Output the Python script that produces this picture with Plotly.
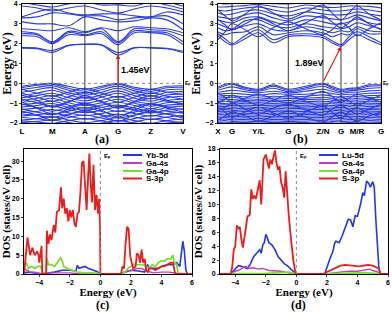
import plotly.graph_objects as go

# ---------------- data ----------------
KLAB_A = ["L", "M", "A", "G", "Z", "V"]
KPOS_A = [0, 30.3, 63.0, 96.3, 129.0, 161.3]
KLAB_B = ["X", "G", "Y/L", "G", "Z/N", "G", "M/R", "G"]
KPOS_B = [0, 14, 40.3, 70.3, 105, 123, 139, 163]

# band energies (eV) sampled at high-symmetry points and segment midpoints
CB_A = [
    [1.77, 1.75, 1.56, 1.90, 1.96, 1.92, 1.43, 1.78, 1.78, 1.74, 1.55],
    [1.80, 1.78, 1.66, 1.92, 1.98, 1.95, 1.55, 1.80, 1.80, 1.77, 1.62],
    [2.40, 2.35, 2.00, 2.45, 2.40, 2.50, 1.95, 2.55, 2.55, 2.45, 1.95],
    [2.50, 2.45, 2.05, 2.55, 2.45, 2.60, 2.05, 2.65, 2.60, 2.55, 2.10],
    [2.60, 2.50, 2.10, 2.62, 2.55, 2.75, 2.10, 2.75, 2.70, 2.65, 2.40],
    [2.75, 2.70, 2.65, 2.80, 2.60, 2.80, 2.65, 2.85, 2.80, 2.75, 2.55],
    [3.10, 3.00, 3.00, 2.90, 3.35, 3.20, 3.10, 3.15, 3.30, 3.20, 2.70],
    [3.30, 3.35, 3.55, 3.50, 3.40, 3.40, 3.20, 3.30, 3.35, 3.40, 3.00],
    [3.35, 3.60, 3.75, 3.55, 3.45, 3.50, 3.50, 3.40, 3.35, 3.60, 3.45],
    [3.90, 3.80, 3.65, 3.80, 3.90, 3.70, 3.55, 3.75, 3.90, 3.80, 3.60],
    [4.10, 3.95, 3.85, 4.00, 4.10, 3.95, 3.95, 3.90, 4.10, 3.95, 3.75],
    [4.20, 4.10, 4.05, 4.20, 4.20, 4.10, 4.00, 4.10, 4.20, 4.10, 3.90],
]
VB_A = [
    [-0.15, -0.05, 0.00, -0.15, -0.30, -0.15, 0.00, -0.20, -0.30, -0.15, -0.12],
    [-0.22, -0.10, -0.04, -0.25, -0.40, -0.22, -0.05, -0.28, -0.40, -0.22, -0.20],
    [-0.32, -0.20, -0.12, -0.35, -0.50, -0.32, -0.14, -0.38, -0.52, -0.32, -0.30],
    [-0.45, -0.32, -0.22, -0.48, -0.60, -0.45, -0.25, -0.50, -0.65, -0.45, -0.42],
    [-0.30, -0.50, -0.65, -0.45, -0.25, -0.50, -0.70, -0.50, -0.30, -0.45, -0.55],
    [-0.60, -0.50, -0.35, -0.58, -0.75, -0.58, -0.38, -0.62, -0.78, -0.58, -0.55],
    [-0.72, -0.62, -0.50, -0.72, -0.88, -0.70, -0.50, -0.75, -0.90, -0.72, -0.65],
    [-0.50, -0.70, -0.90, -0.68, -0.45, -0.68, -0.95, -0.70, -0.48, -0.65, -0.80],
    [-0.85, -0.75, -0.62, -0.85, -1.00, -0.85, -0.66, -0.90, -1.02, -0.85, -0.80],
    [-0.95, -0.88, -0.75, -0.98, -1.12, -0.98, -0.80, -1.00, -1.15, -0.98, -0.92],
    [-0.80, -0.98, -1.15, -0.92, -0.70, -0.92, -1.18, -0.95, -0.75, -0.90, -1.05],
    [-1.08, -1.00, -0.90, -1.10, -1.25, -1.10, -0.95, -1.12, -1.28, -1.10, -1.05],
    [-1.20, -1.12, -1.02, -1.22, -1.35, -1.22, -1.10, -1.25, -1.38, -1.22, -1.15],
    [-1.05, -1.22, -1.40, -1.20, -1.00, -1.22, -1.42, -1.20, -1.02, -1.18, -1.32],
    [-1.32, -1.25, -1.15, -1.32, -1.48, -1.35, -1.20, -1.35, -1.50, -1.35, -1.28],
    [-1.30, -1.45, -1.58, -1.40, -1.22, -1.42, -1.60, -1.45, -1.28, -1.40, -1.50],
    [-1.48, -1.42, -1.32, -1.48, -1.62, -1.52, -1.38, -1.52, -1.65, -1.52, -1.45],
    [-1.55, -1.62, -1.72, -1.55, -1.42, -1.58, -1.75, -1.60, -1.45, -1.55, -1.68],
    [-1.65, -1.58, -1.50, -1.65, -1.80, -1.70, -1.55, -1.70, -1.82, -1.70, -1.62],
    [-1.72, -1.78, -1.88, -1.72, -1.60, -1.75, -1.90, -1.78, -1.62, -1.72, -1.85],
    [-1.85, -1.78, -1.68, -1.85, -1.98, -1.88, -1.72, -1.88, -2.00, -1.88, -1.80],
    [-1.90, -1.95, -2.02, -1.88, -1.78, -1.90, -2.02, -1.95, -1.80, -1.90, -1.98],
    [-1.98, -1.92, -1.85, -1.98, -2.10, -2.00, -1.88, -2.00, -2.10, -2.00, -1.95],
    [-0.95, -1.25, -1.55, -1.30, -1.05, -1.35, -1.70, -1.35, -1.05, -1.25, -1.45],
    [-0.60, -0.85, -1.20, -0.95, -0.62, -0.95, -1.25, -0.90, -0.62, -0.85, -1.05],
    [-1.40, -1.60, -1.85, -1.60, -1.35, -1.62, -1.90, -1.60, -1.40, -1.55, -1.75],
]
CB_B = [
    [2.40, 2.10, 1.93, 2.25, 2.55, 2.05, 2.35, 2.40, 2.30, 2.05, 1.87, 2.20, 2.45, 2.20, 1.94],
    [2.50, 2.25, 2.00, 2.40, 2.70, 2.20, 2.45, 2.50, 2.40, 2.15, 1.95, 2.35, 2.60, 2.35, 2.05],
    [2.60, 2.45, 2.55, 2.60, 2.85, 2.45, 2.55, 2.65, 2.55, 2.35, 2.50, 2.45, 2.75, 2.50, 2.50],
    [2.80, 2.65, 2.70, 2.90, 3.00, 2.70, 2.65, 2.85, 2.70, 2.55, 2.65, 2.60, 2.85, 2.65, 2.60],
    [3.00, 2.85, 2.75, 3.15, 3.20, 2.90, 2.80, 3.00, 2.85, 2.80, 2.75, 2.85, 3.05, 2.90, 2.75],
    [3.20, 3.10, 3.05, 3.30, 3.35, 3.10, 2.95, 3.20, 3.10, 3.00, 3.00, 3.10, 3.25, 3.05, 2.95],
    [3.35, 3.30, 3.25, 3.45, 3.55, 3.30, 3.15, 3.40, 3.30, 3.25, 3.20, 3.30, 3.45, 3.30, 3.15],
    [3.55, 3.45, 3.50, 3.65, 3.70, 3.50, 3.40, 3.60, 3.50, 3.45, 3.45, 3.50, 3.60, 3.50, 3.40],
    [3.70, 3.65, 3.70, 3.80, 3.85, 3.70, 3.60, 3.80, 3.70, 3.65, 3.65, 3.70, 3.75, 3.70, 3.60],
    [3.85, 3.85, 3.88, 3.92, 3.98, 3.88, 3.80, 3.95, 3.85, 3.82, 3.85, 3.90, 3.90, 3.88, 3.80],
    [2.20, 2.60, 3.00, 2.70, 2.35, 2.80, 3.10, 2.75, 2.45, 2.70, 3.05, 2.80, 2.40, 2.75, 3.05],
    [3.20, 2.95, 2.70, 3.00, 3.30, 3.00, 2.65, 3.05, 3.40, 3.10, 2.80, 3.05, 3.35, 3.00, 2.70],
    [3.70, 3.40, 3.15, 3.50, 3.90, 3.55, 3.25, 3.60, 3.95, 3.55, 3.20, 3.55, 3.90, 3.50, 3.20],
    [4.05, 4.00, 4.02, 4.05, 4.05, 4.02, 4.00, 4.05, 4.02, 4.00, 4.00, 4.02, 4.05, 4.02, 4.00],
]
VB_B = [
    [-0.20, -0.05, 0.00, -0.20, -0.30, -0.08, -0.30, -0.15, 0.00, -0.15, -0.30, -0.25, -0.22, -0.08, -0.08],
    [-0.25, -0.12, -0.05, -0.25, -0.35, -0.15, -0.35, -0.22, -0.05, -0.22, -0.35, -0.30, -0.28, -0.15, -0.12],
    [-0.35, -0.25, -0.18, -0.32, -0.40, -0.25, -0.42, -0.30, -0.15, -0.30, -0.42, -0.38, -0.35, -0.25, -0.22],
    [-0.45, -0.40, -0.35, -0.42, -0.48, -0.40, -0.48, -0.40, -0.30, -0.40, -0.50, -0.45, -0.45, -0.38, -0.35],
    [-0.55, -0.52, -0.50, -0.55, -0.60, -0.52, -0.55, -0.55, -0.45, -0.52, -0.58, -0.55, -0.55, -0.50, -0.48],
    [-0.65, -0.62, -0.62, -0.68, -0.70, -0.65, -0.68, -0.65, -0.58, -0.65, -0.70, -0.65, -0.66, -0.62, -0.60],
    [-0.75, -0.72, -0.70, -0.78, -0.80, -0.74, -0.76, -0.75, -0.70, -0.76, -0.80, -0.74, -0.76, -0.72, -0.70],
    [-0.85, -0.80, -0.82, -0.86, -0.88, -0.84, -0.86, -0.82, -0.80, -0.85, -0.88, -0.84, -0.85, -0.80, -0.82],
    [-0.92, -0.90, -0.95, -0.92, -0.96, -0.92, -0.95, -0.92, -0.90, -0.94, -0.96, -0.92, -0.94, -0.90, -0.92],
    [-1.00, -1.02, -1.05, -1.00, -1.04, -1.02, -1.05, -1.00, -1.00, -1.03, -1.05, -1.02, -1.02, -1.00, -1.02],
    [-1.10, -1.08, -1.12, -1.10, -1.12, -1.10, -1.12, -1.10, -1.08, -1.12, -1.14, -1.10, -1.12, -1.08, -1.10],
    [-1.18, -1.16, -1.20, -1.18, -1.22, -1.18, -1.20, -1.18, -1.16, -1.20, -1.22, -1.18, -1.20, -1.16, -1.18],
    [-1.25, -1.25, -1.28, -1.26, -1.30, -1.26, -1.28, -1.25, -1.25, -1.28, -1.30, -1.26, -1.28, -1.25, -1.26],
    [-1.33, -1.32, -1.36, -1.34, -1.38, -1.34, -1.36, -1.33, -1.32, -1.36, -1.38, -1.34, -1.36, -1.32, -1.34],
    [-1.42, -1.40, -1.44, -1.42, -1.46, -1.42, -1.44, -1.42, -1.40, -1.44, -1.46, -1.42, -1.44, -1.40, -1.42],
    [-1.50, -1.48, -1.52, -1.50, -1.54, -1.50, -1.52, -1.50, -1.48, -1.52, -1.54, -1.50, -1.52, -1.48, -1.50],
    [-1.58, -1.56, -1.60, -1.58, -1.62, -1.58, -1.60, -1.58, -1.56, -1.60, -1.62, -1.58, -1.60, -1.56, -1.58],
    [-1.66, -1.65, -1.68, -1.66, -1.70, -1.66, -1.68, -1.66, -1.64, -1.68, -1.70, -1.66, -1.68, -1.65, -1.66],
    [-1.74, -1.72, -1.76, -1.74, -1.78, -1.74, -1.76, -1.74, -1.72, -1.76, -1.78, -1.74, -1.76, -1.72, -1.74],
    [-1.82, -1.80, -1.84, -1.82, -1.86, -1.82, -1.84, -1.82, -1.80, -1.84, -1.86, -1.82, -1.84, -1.80, -1.82],
    [-1.90, -1.88, -1.92, -1.90, -1.94, -1.90, -1.92, -1.90, -1.88, -1.92, -1.94, -1.90, -1.92, -1.88, -1.90],
    [-1.97, -1.96, -1.99, -1.97, -2.01, -1.97, -1.99, -1.97, -1.96, -1.99, -2.01, -1.97, -1.99, -1.96, -1.97],
    [-0.50, -0.70, -0.95, -0.75, -0.55, -0.80, -1.00, -0.70, -0.40, -0.65, -0.95, -0.75, -0.55, -0.75, -0.95],
    [-1.00, -0.80, -0.60, -0.85, -1.10, -0.85, -0.60, -0.90, -1.15, -0.90, -0.65, -0.90, -1.10, -0.85, -0.60],
    [-1.40, -1.20, -1.00, -1.30, -1.55, -1.25, -1.05, -1.35, -1.60, -1.30, -1.10, -1.35, -1.55, -1.30, -1.05],
    [-1.20, -1.45, -1.70, -1.45, -1.20, -1.50, -1.75, -1.45, -1.15, -1.45, -1.75, -1.45, -1.25, -1.50, -1.70],
    [-1.85, -1.65, -1.45, -1.65, -1.90, -1.65, -1.40, -1.70, -1.95, -1.70, -1.45, -1.70, -1.90, -1.65, -1.45],
]

# band-gap transitions (k-point index of VBM, CBM) and gap values
GAP_A = {"vbm_k": 3, "cbm_k": 3, "vbm": 0.0, "cbm": 1.45, "label": "1.45eV"}
GAP_B = {"vbm_k": 4, "cbm_k": 5, "vbm": 0.05, "cbm": 1.85, "label": "1.89eV"}

# DOS panel (c): energies (eV) and DOS (states/eV cell)
C_NAMES = ["Yb-5d", "Ga-4s", "Ga-4p", "S-3p"]
C_YB5D_E = [-5.0, -4.7, -4.3, -3.8, -3.5, -3.0, -2.5, -2.0, -1.6, -1.5, -1.4, -1.2, -1.0, -0.8, -0.6, -0.4, -0.2, 0.0,
            1.3, 1.6, 2.0, 2.5, 2.9, 3.1, 3.2, 3.4, 3.6, 3.8, 4.0, 4.4, 4.7, 5.0, 5.2, 5.3, 5.4, 5.5, 5.6, 5.7, 6.0]
C_YB5D = [0.3, 0.5, 0.3, 0.0, 0.2, 0.5, 1.0, 1.0, 0.8, 2.3, 1.5, 1.8, 2.0, 1.5, 1.2, 1.0, 0.6, 0.0,
          0.0, 0.5, 1.0, 0.8, 0.5, 2.5, 1.5, 1.5, 1.5, 1.5, 2.0, 2.5, 2.5, 3.0, 2.0, 5.0, 8.7, 6.0, 1.0, 0.0, 0.0]
C_GA4S_E = [-5.0, -4.8, -4.6, -4.3, -4.0, -3.8, -3.5, -3.0, -2.5, -2.0, -1.5, 0.0,
            1.4, 1.8, 2.1, 2.4, 2.7, 3.0, 3.5, 4.0, 4.5, 5.0, 6.0]
C_GA4S = [1.5, 1.0, 0.5, 0.5, 0.2, 0.0, 0.3, 0.3, 0.5, 0.3, 0.1, 0.0,
          0.0, 0.8, 1.0, 1.5, 1.5, 0.8, 0.3, 0.5, 0.5, 0.2, 0.0]
C_GA4P_E = [-5.0, -4.85, -4.7, -4.5, -4.3, -4.1, -3.9, -3.8, -3.55, -3.5, -3.4, -3.2, -3.0, -2.8, -2.6, -2.5, -2.4,
            -2.2, -2.0, -1.8, -1.5, -1.0, -0.5, 0.0,
            1.4, 1.6, 1.8, 2.0, 2.2, 2.5, 2.8, 3.0, 3.2, 3.4, 3.6, 3.8, 4.0, 4.2, 4.4, 4.6, 4.75, 4.85, 5.0, 5.1, 6.0]
C_GA4P = [2.0, 3.0, 1.5, 2.0, 1.5, 2.0, 2.0, 0.3, 0.3, 4.2, 2.5, 2.5, 2.0, 3.0, 4.3, 3.5, 2.0,
          1.5, 1.2, 1.0, 0.5, 0.3, 0.3, 0.0,
          0.0, 0.5, 1.5, 2.0, 2.5, 2.5, 2.5, 2.0, 1.5, 2.5, 2.0, 3.0, 3.5, 3.5, 4.0, 4.0, 5.0, 3.0, 2.5, 0.0, 0.0]
C_S3P_E = [-5.0, -4.88, -4.77, -4.6, -4.45, -4.3, -4.15, -4.05, -4.0, -3.85, -3.8, -3.55, -3.5, -3.4, -3.3, -3.2,
           -3.05, -2.95, -2.85, -2.7, -2.58, -2.5, -2.4, -2.3, -2.2, -2.1, -2.0, -1.9, -1.8, -1.7, -1.6, -1.5,
           -1.4, -1.3, -1.2, -1.1, -1.0, -0.9, -0.8, -0.72, -0.65, -0.55, -0.45, -0.35, -0.25, -0.15, -0.08,
           -0.02, 0.0, 1.35, 1.45, 1.55, 1.65, 1.75, 1.85, 1.95, 2.05, 2.15, 2.3, 2.4, 2.5, 2.6, 2.7, 2.8, 2.9,
           3.0, 3.1, 3.2, 3.4, 3.6, 3.8, 4.0, 4.2, 4.4, 4.6, 4.75, 4.85, 4.9, 6.0]
C_S3P = [0.0, 6.0, 9.7, 5.0, 7.0, 5.0, 6.0, 5.0, 3.0, 7.5, 0.0, 0.0, 11.5, 8.0, 10.5, 9.0,
         13.0, 11.0, 16.5, 17.0, 23.0, 17.5, 20.0, 16.0, 17.5, 14.0, 17.0, 15.0, 17.0, 13.5, 12.5, 16.0,
         16.5, 22.0, 29.5, 30.0, 22.0, 17.0, 26.0, 32.0, 25.0, 19.0, 29.0, 17.0, 21.0, 16.0, 20.0,
         12.0, 0.0, 0.0, 2.0, 1.5, 8.0, 12.5, 12.0, 5.0, 3.0, 1.5, 2.0, 5.5, 5.0, 3.0, 6.5, 3.0, 4.0,
         1.0, 0.5, 1.5, 1.5, 1.0, 1.5, 2.0, 2.0, 2.5, 3.0, 3.0, 1.5, 0.0, 0.0]

# DOS panel (d)
D_NAMES = ["Lu-5d", "Ga-4s", "Ga-4p", "S-3p"]
D_LU5D_E = [-5.0, -4.3, -4.1, -3.9, -3.8, -3.6, -3.4, -3.2, -3.0, -2.8, -2.6, -2.4, -2.3, -2.2, -2.1, -2.0, -1.9,
            -1.8, -1.6, -1.4, -1.2, -1.0, -0.8, -0.6, -0.4, -0.2, 0.0,
            1.85, 2.0, 2.2, 2.4, 2.5, 2.6, 2.8, 3.0, 3.2, 3.4, 3.55, 3.7, 3.85, 4.0, 4.2, 4.35, 4.45, 4.6, 4.75,
            4.85, 5.0, 5.1, 5.2, 5.3, 5.4, 5.5, 6.0]
D_LU5D = [0.0, 0.0, 0.5, 1.0, 1.2, 1.1, 1.0, 0.8, 1.5, 2.5, 3.0, 3.5, 3.0, 4.2, 4.5, 5.7, 5.2,
          4.5, 4.2, 3.5, 2.5, 2.0, 1.5, 1.2, 0.8, 0.3, 0.0,
          0.0, 1.0, 2.2, 3.3, 4.4, 4.7, 4.5, 5.5, 6.7, 7.9, 7.8, 6.8, 8.4, 8.3, 10.0, 11.7, 11.3, 13.4, 13.0,
          12.5, 13.3, 12.5, 8.0, 4.0, 1.0, 0.0, 0.0]
D_GA4S_E = [-5.0, -4.3, -4.0, -3.7, -3.5, -3.3, -3.1, -2.8, -2.5, -2.2, -1.8, -1.4, -1.0, -0.6, -0.2, 0.0,
            1.9, 2.5, 3.0, 3.5, 4.0, 4.5, 4.8, 5.0, 5.3, 5.5, 6.0]
D_GA4S = [0.0, 0.0, 0.4, 0.6, 0.9, 1.1, 0.8, 0.9, 0.7, 0.8, 0.5, 0.5, 0.4, 0.2, 0.1, 0.0,
          0.0, 0.2, 0.3, 0.4, 0.4, 0.6, 0.7, 0.5, 0.3, 0.0, 0.0]
D_GA4P_E = [-5.0, -4.3, -3.5, -2.0, -0.5, 0.0, 1.9, 3.0, 4.5, 5.5, 6.0]
D_GA4P = [0.0, 0.0, 0.1, 0.1, 0.25, 0.0, 0.0, 0.1, 0.2, 0.0, 0.0]
D_S3P_E = [-5.0, -4.3, -4.2, -4.1, -4.0, -3.9, -3.8, -3.7, -3.6, -3.5, -3.35, -3.2, -3.05, -2.95, -2.85, -2.75,
           -2.65, -2.5, -2.4, -2.3, -2.15, -2.0, -1.9, -1.8, -1.7, -1.6, -1.5, -1.4, -1.3, -1.2, -1.1, -1.0,
           -0.9, -0.8, -0.7, -0.6, -0.5, -0.35, -0.2, -0.05, 0.0,
           1.85, 2.0, 2.3, 2.6, 2.9, 3.2, 3.5, 3.8, 4.1, 4.4, 4.7, 5.0, 5.2, 5.4, 5.5, 6.0]
D_S3P = [0.0, 0.0, 1.0, 3.5, 4.0, 7.0, 6.5, 6.8, 5.0, 3.8, 6.0, 8.3, 8.5, 12.2, 10.8, 11.3,
         10.8, 12.7, 13.5, 10.0, 16.5, 17.2, 16.0, 15.2, 16.5, 15.8, 16.9, 17.8, 16.0, 15.0, 15.5, 13.2,
         12.5, 11.0, 14.8, 11.0, 8.5, 5.0, 2.0, 0.0, 0.0,
         0.0, 0.3, 0.6, 0.8, 1.2, 1.3, 1.2, 1.1, 1.1, 1.2, 1.3, 1.2, 1.0, 0.8, 0.0, 0.0]

DOS_COLORS = ["#2436ee", "#c23cc2", "#77e02a", "#ee1c1c"]
BAND_COLOR = "#2b3ce6"

# ---------------- figure ----------------
W, H = 392, 312
fig = go.Figure()


def samples(kpos):
    out = []
    for i in range(len(kpos) - 1):
        out += [kpos[i], (kpos[i] + kpos[i + 1]) / 2]
    out.append(kpos[-1])
    return out


def add_bands(bands, kpos, xa, ya):
    ks = samples(kpos)
    for b in bands:
        fig.add_trace(go.Scatter(x=ks, y=b, mode="lines", xaxis=xa, yaxis=ya,
                                 line=dict(color=BAND_COLOR, width=1.1, shape="spline", smoothing=1.0),
                                 showlegend=False, hoverinfo="skip"))


add_bands(VB_A + CB_A, KPOS_A, "x", "y")
add_bands(VB_B + CB_B, KPOS_B, "x2", "y2")

C_SERIES = [(C_YB5D_E, C_YB5D), (C_GA4S_E, C_GA4S), (C_GA4P_E, C_GA4P), (C_S3P_E, C_S3P)]
D_SERIES = [(D_LU5D_E, D_LU5D), (D_GA4S_E, D_GA4S), (D_GA4P_E, D_GA4P), (D_S3P_E, D_S3P)]
WIDTHS = [1.6, 1.4, 1.8, 1.8]
for (ex, dy), nm, col, w in zip(C_SERIES, C_NAMES, DOS_COLORS, WIDTHS):
    fig.add_trace(go.Scatter(x=ex, y=dy, mode="lines", name=nm, xaxis="x3", yaxis="y3",
                             line=dict(color=col, width=w), showlegend=False))
for (ex, dy), nm, col, w in zip(D_SERIES, D_NAMES, DOS_COLORS, WIDTHS):
    fig.add_trace(go.Scatter(x=ex, y=dy, mode="lines", name=nm, xaxis="x4", yaxis="y4",
                             line=dict(color=col, width=w), showlegend=False))


def px(x):
    return x / W


def py(y):
    return 1 - y / H


TICKFONT = dict(family="Liberation Sans, Arial", size=7, color="black", weight="bold")
KFONT = dict(family="Liberation Sans, Arial", size=8, color="black", weight="bold")
TITLEFONT = dict(family="Liberation Serif, Times New Roman", size=12, color="black", weight="bold")
XTITLEFONT = dict(family="Liberation Serif, Times New Roman", size=11, color="black", weight="bold")
DOSTITLEFONT = dict(family="Liberation Serif, Times New Roman", size=11, color="black", weight="bold")

axis_common = dict(showline=True, linecolor="black", linewidth=1, mirror=True, showgrid=False,
                   zeroline=False, automargin=False)

top_dom_y = [py(123), py(4)]
fig.update_layout(
    xaxis=dict(domain=[px(22), px(183)], range=[KPOS_A[0], KPOS_A[-1]], tickvals=KPOS_A, ticktext=KLAB_A,
               ticks="", tickfont=KFONT, anchor="y", **axis_common),
    yaxis=dict(domain=top_dom_y, range=[-2, 4], dtick=1, ticks="outside", ticklen=2, tickfont=TICKFONT,
               anchor="x", title=dict(text="Energy (eV)", font=TITLEFONT, standoff=2), **axis_common),
    xaxis2=dict(domain=[px(218), px(381)], range=[KPOS_B[0], KPOS_B[-1]], tickvals=KPOS_B, ticktext=KLAB_B,
                ticks="", tickfont=KFONT, anchor="y2", **axis_common),
    yaxis2=dict(domain=top_dom_y, range=[-2, 4], dtick=1, ticks="outside", ticklen=2, tickfont=TICKFONT,
                anchor="x2", title=dict(text="Energy (eV)", font=TITLEFONT, standoff=2), **axis_common),
    xaxis3=dict(domain=[px(24), px(192)], range=[-5, 6], tickvals=[-4, -2, 0, 2, 4, 6], ticks="outside",
                ticklen=2, tickfont=TICKFONT, anchor="y3",
                title=dict(text="Energy (eV)", font=XTITLEFONT, standoff=0), **axis_common),
    yaxis3=dict(domain=[py(274), py(149)], range=[0, 33.2], tickvals=[0, 5, 10, 15, 20, 25, 30],
                ticks="outside", ticklen=2, tickfont=TICKFONT, anchor="x3",
                title=dict(text="DOS (states/eV cell)", font=DOSTITLEFONT, standoff=2), **axis_common),
    xaxis4=dict(domain=[px(220), px(388)], range=[-5, 6], tickvals=[-4, -2, 0, 2, 4, 6], ticks="outside",
                ticklen=2, tickfont=TICKFONT, anchor="y4",
                title=dict(text="Energy (eV)", font=XTITLEFONT, standoff=0), **axis_common),
    yaxis4=dict(domain=[py(274), py(149)], range=[0, 18], tickvals=list(range(0, 19, 2)),
                ticks="outside", ticklen=2, tickfont=TICKFONT, anchor="x4",
                title=dict(text="DOS (states/eV cell)", font=DOSTITLEFONT, standoff=2), **axis_common),
    width=W, height=H, margin=dict(l=0, r=0, t=0, b=0, autoexpand=False),
    paper_bgcolor="white", plot_bgcolor="white", showlegend=False,
)

shapes = []
annotations = []
for kpos, xr, yr in [(KPOS_A, "x", "y"), (KPOS_B, "x2", "y2")]:
    for k in kpos[1:-1]:
        shapes.append(dict(type="line", xref=xr, yref=yr + " domain", x0=k, x1=k, y0=0, y1=1,
                           line=dict(color="#3a3a3a", width=1), layer="above"))
    shapes.append(dict(type="line", xref=xr + " domain", yref=yr, x0=0, x1=1, y0=0, y1=0,
                       line=dict(color="#888888", width=1, dash="dot"), layer="above"))
    annotations.append(dict(xref=xr + " domain", yref=yr, x=1.0, y=0, text="E<sub>F</sub>", showarrow=False,
                            xanchor="left", yanchor="middle", xshift=0,
                            font=dict(family="Liberation Sans, Arial", size=5, color="black", weight="bold")))
for xr, yr in [("x3", "y3"), ("x4", "y4")]:
    shapes.append(dict(type="line", xref=xr, yref=yr + " domain", x0=0, x1=0, y0=0, y1=1,
                       line=dict(color="#888888", width=1, dash="dot"), layer="above"))
    annotations.append(dict(xref=xr, yref=yr + " domain", x=0, y=0.985, text="E<sub>F</sub>", showarrow=False,
                            xanchor="left", yanchor="top", xshift=2,
                            font=dict(family="Liberation Sans, Arial", size=6, color="black", weight="bold")))

for g, kpos, xr, yr, tx, ty in [(GAP_A, KPOS_A, "x", "y", 119, 70), (GAP_B, KPOS_B, "x2", "y2", 309, 63)]:
    annotations.append(dict(xref=xr, yref=yr, axref=xr, ayref=yr,
                            x=kpos[g["cbm_k"]], y=g["cbm"], ax=kpos[g["vbm_k"]], ay=g["vbm"],
                            showarrow=True, arrowhead=2, arrowsize=0.8, arrowwidth=1.1, arrowcolor="#ee1111",
                            text=""))
    annotations.append(dict(xref="paper", yref="paper", x=px(tx), y=py(ty), text=g["label"], showarrow=False,
                            xanchor="left" if xr == "x" else "center", yanchor="middle",
                            font=dict(family="Liberation Sans, Arial", size=9, color="black", weight="bold")))

for lab, x, y in [("(a)", 102, 139), ("(b)", 300, 139), ("(c)", 102, 305), ("(d)", 298, 305)]:
    annotations.append(dict(xref="paper", yref="paper", x=px(x), y=py(y), text=lab, showarrow=False,
                            xanchor="center", yanchor="middle",
                            font=dict(family="Liberation Serif, Times New Roman", size=12, color="black",
                                      weight="bold")))

LEG_ROWS = [155, 163, 171, 178.5]
for names, x0 in [(C_NAMES, 123), (D_NAMES, 319)]:
    for nm, col, yy in zip(names, DOS_COLORS, LEG_ROWS):
        shapes.append(dict(type="line", xref="paper", yref="paper", x0=px(x0), x1=px(x0 + 19),
                           y0=py(yy), y1=py(yy), line=dict(color=col, width=2)))
        annotations.append(dict(xref="paper", yref="paper", x=px(x0 + 21), y=py(yy), text=nm,
                                showarrow=False, xanchor="left", yanchor="middle",
                                font=dict(family="Liberation Sans, Arial", size=8, color="black",
                                          weight="bold")))

fig.update_layout(shapes=shapes, annotations=annotations)
fig.write_html("out.html", config={"displayModeBar": False},
               post_script="document.body.style.margin='0';document.body.style.padding='0';")
